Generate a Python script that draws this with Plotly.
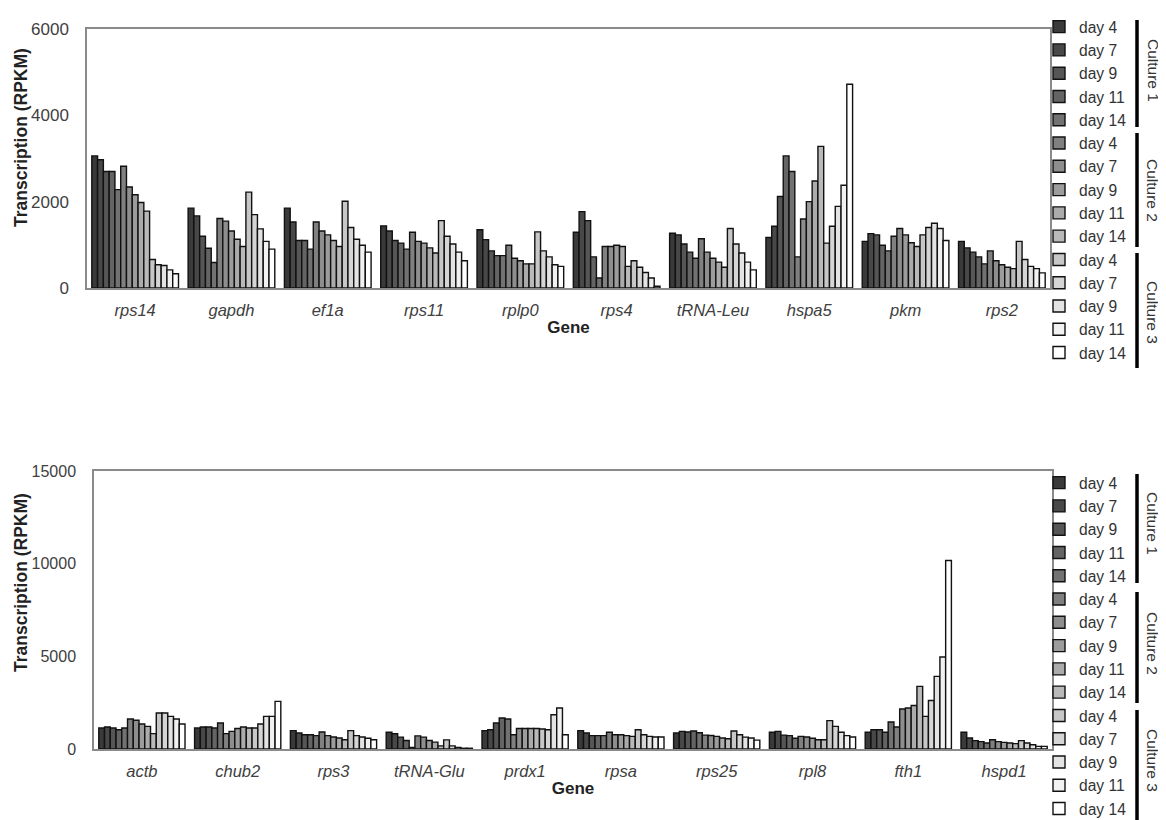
import plotly.graph_objects as go

PAGE_W, PAGE_H = 1166, 820
OFF = 8  # default page body margin
W, H = PAGE_W - OFF, PAGE_H - OFF
FONT = "Arial, Liberation Sans, sans-serif"
TXT = "#404040"

# ---------------- data ----------------
days = ["day 4", "day 7", "day 9", "day 11", "day 14"]
cultures = ["Culture 1", "Culture 2", "Culture 3"]

top_genes = ["rps14", "gapdh", "ef1a", "rps11", "rplp0", "rps4", "tRNA-Leu", "hspa5", "pkm", "rps2"]
# each list: culture1 d4..d14, culture2 d4..d14, culture3 d4..d14
rps14 = [3060, 2970, 2700, 2700, 2280, 2820, 2340, 2160, 1980, 1780, 660, 540, 520, 420, 330]
gapdh = [1850, 1670, 1200, 920, 590, 1610, 1550, 1320, 1130, 960, 2220, 1700, 1370, 1080, 900]
ef1a = [1850, 1530, 1100, 1100, 900, 1530, 1320, 1230, 1100, 960, 2010, 1400, 1130, 990, 830]
rps11 = [1440, 1320, 1100, 1040, 900, 1290, 1080, 1040, 930, 810, 1560, 1200, 1020, 830, 630]
rplp0 = [1350, 1120, 860, 750, 750, 990, 690, 630, 560, 560, 1300, 860, 720, 540, 500]
rps4 = [1290, 1770, 1560, 720, 230, 960, 960, 990, 960, 500, 630, 480, 360, 230, 40]
trna_leu = [1270, 1230, 1020, 830, 690, 1140, 830, 690, 600, 480, 1380, 1020, 810, 600, 420]
hspa5 = [1170, 1430, 2120, 3060, 2700, 720, 1600, 2000, 2480, 3280, 1040, 1430, 1890, 2380, 4720]
pkm = [1080, 1260, 1230, 990, 860, 1200, 1380, 1230, 1050, 960, 1230, 1400, 1500, 1380, 1100]
rps2 = [1080, 930, 830, 720, 560, 860, 630, 540, 480, 450, 1080, 660, 500, 450, 350]
top_values = [rps14, gapdh, ef1a, rps11, rplp0, rps4, trna_leu, hspa5, pkm, rps2]

bottom_genes = ["actb", "chub2", "rps3", "tRNA-Glu", "prdx1", "rpsa", "rps25", "rpl8", "fth1", "hspd1"]
actb = [1130, 1190, 1130, 1040, 1130, 1620, 1550, 1350, 1220, 830, 1940, 1940, 1760, 1620, 1350]
chub2 = [1130, 1190, 1190, 1130, 1400, 830, 950, 1110, 1190, 1130, 1130, 1350, 1760, 1760, 2570]
rps3 = [990, 860, 770, 770, 720, 920, 720, 650, 590, 500, 990, 720, 650, 580, 500]
trna_glu = [900, 820, 640, 460, 90, 710, 640, 460, 370, 170, 490, 170, 90, 40, 40]
prdx1 = [990, 1040, 1400, 1670, 1620, 770, 1110, 1110, 1110, 1110, 1080, 1040, 1850, 2210, 770]
rpsa = [990, 860, 720, 720, 720, 900, 770, 770, 720, 680, 1040, 770, 680, 650, 650]
rps25 = [860, 950, 920, 970, 880, 750, 730, 680, 590, 550, 970, 770, 640, 590, 480]
rpl8 = [900, 950, 750, 720, 580, 680, 650, 580, 500, 500, 1530, 1220, 900, 720, 650]
fth1 = [900, 1040, 1040, 900, 1460, 1190, 2160, 2210, 2350, 3380, 1760, 2620, 3920, 4960, 10170]
hspd1 = [900, 590, 450, 400, 320, 500, 400, 360, 320, 290, 450, 320, 230, 140, 140]
bottom_values = [actb, chub2, rps3, trna_glu, prdx1, rpsa, rps25, rpl8, fth1, hspd1]

top_yticks = [0, 2000, 4000, 6000]
bottom_yticks = [0, 5000, 10000, 15000]

# ---------------- style ----------------
def gray(i, n=15, lo=0x3a, hi=0xff):
    v = int(round(lo + (hi - lo) * i / (n - 1)))
    return f"rgb({v},{v},{v})"

def px_x(p):
    return (p - OFF) / W

def px_y(p):
    return 1 - (p - OFF) / H

fig = go.Figure()
series = [(c, d) for c in cultures for d in days]
for k, (c, d) in enumerate(series):
    fig.add_trace(go.Bar(
        x=top_genes, y=[g[k] for g in top_values], name=d,
        legendgroup="top", legend="legend", xaxis="x", yaxis="y",
        marker=dict(color=gray(k), line=dict(color="#111111", width=1.4)),
        hovertemplate=f"{c} {d}<br>%{{x}}: %{{y}}<extra></extra>",
    ))
for k, (c, d) in enumerate(series):
    fig.add_trace(go.Bar(
        x=bottom_genes, y=[g[k] for g in bottom_values], name=d,
        legendgroup="bottom", legend="legend2", xaxis="x2", yaxis="y2",
        marker=dict(color=gray(k), line=dict(color="#111111", width=1.4)),
        hovertemplate=f"{c} {d}<br>%{{x}}: %{{y}}<extra></extra>",
    ))

axis_common = dict(showline=True, mirror=True, linecolor="#8a8a8a", linewidth=1.5,
                   showgrid=False, zeroline=False, ticks="", automargin=False)
xfont = dict(family=FONT, size=16.5, color=TXT, style="italic")
yfont = dict(family=FONT, size=17, color=TXT)
yfont2 = dict(family=FONT, size=16, color=TXT)
gene_title = dict(text="<b>Gene</b>", font=dict(family=FONT, size=17, color="#222222"), standoff=4)

legend_common = dict(xanchor="left", yanchor="top", traceorder="normal", tracegroupgap=0,
                     itemwidth=30, bgcolor="rgba(0,0,0,0)",
                     font=dict(family=FONT, size=15.6, color="#333333"), itemclick=False, itemdoubleclick=False)

fig.update_layout(
    width=W, height=H, margin=dict(l=0, r=0, t=0, b=0, autoexpand=False),
    paper_bgcolor="white", plot_bgcolor="white",
    barmode="group", bargap=0.1, bargroupgap=0,
    font=dict(family=FONT, color=TXT),
    xaxis=dict(domain=[px_x(87), px_x(1050)], anchor="y", tickfont=xfont, title=gene_title,
               ticklabelstandoff=6, **axis_common),
    yaxis=dict(domain=[px_y(288), px_y(29)], anchor="x", range=[0, 6000], tickvals=top_yticks,
               tickformat="d", tickfont=yfont, ticklabelstandoff=13, **axis_common),
    xaxis2=dict(domain=[px_x(94), px_x(1052)], anchor="y2", tickfont=xfont, title=gene_title,
                ticklabelstandoff=6, **axis_common),
    yaxis2=dict(domain=[px_y(749), px_y(471)], anchor="x2", range=[0, 15000], tickvals=bottom_yticks,
                tickformat="d", tickfont=yfont2, ticklabelstandoff=13, **axis_common),
    legend=dict(x=px_x(1039), y=px_y(10), **legend_common),
    legend2=dict(x=px_x(1039), y=px_y(466), **legend_common),
    showlegend=True,
)

ann = []
shapes = []
# y-axis titles
for yc in (138, 583):
    ann.append(dict(text="<b>Transcription (RPKM)</b>", x=px_x(21), y=px_y(yc), xref="paper", yref="paper",
                    xanchor="center", yanchor="middle",
                    textangle=-90, showarrow=False, font=dict(family=FONT, size=17.5, color="#222222")))
# culture brackets beside legends
brackets = [
    [(20, 127, 70), (133, 247, 190), (253, 368, 312)],
    [(474, 583, 523), (592, 703, 643), (710, 820, 760)],
]
for panel in brackets:
    for (y0, y1, yc), cname in zip(panel, cultures):
        shapes.append(dict(type="line", xref="paper", yref="paper", x0=px_x(1137), x1=px_x(1137),
                           y0=px_y(y0), y1=px_y(y1), line=dict(color="black", width=3.5)))
        ann.append(dict(text=cname, x=px_x(1153), y=px_y(yc), xref="paper", yref="paper",
                        xanchor="center", yanchor="middle",
                        textangle=90, showarrow=False, font=dict(family=FONT, size=15.5, color="#333333")))
fig.update_layout(annotations=ann, shapes=shapes)

fig.write_html("out.html")
